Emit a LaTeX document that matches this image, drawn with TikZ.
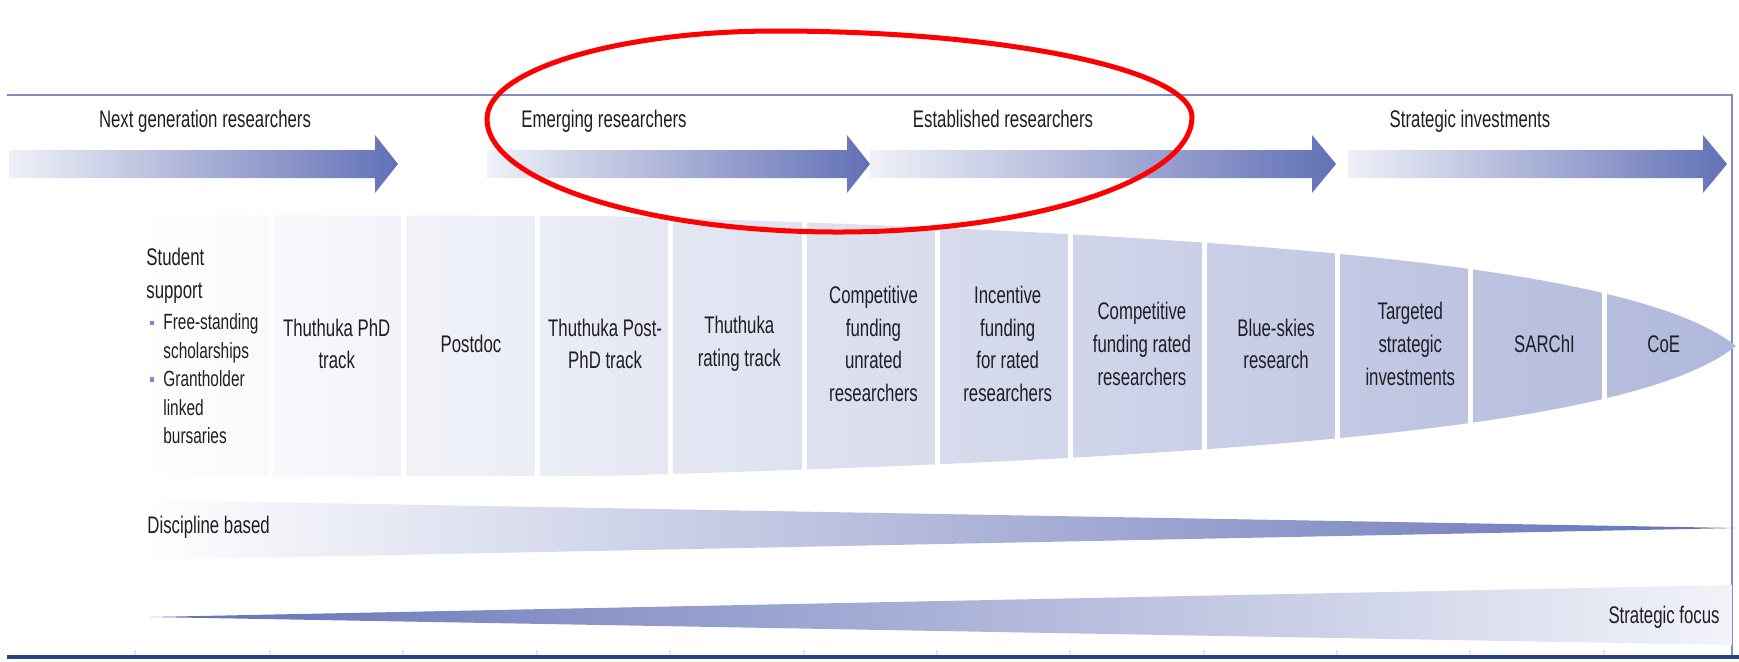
\documentclass[tikz,border=0pt]{standalone}
\usepackage{fontspec}
\setmainfont{Liberation Sans}[FakeStretch=0.70]
\usepackage{tikz}
\usetikzlibrary{positioning}

\definecolor{arrowblue}{RGB}{98,112,182}
\definecolor{framecol}{RGB}{128,138,196}
\definecolor{basecol}{RGB}{44,66,128}
\definecolor{cellend}{RGB}{176,184,219}
\definecolor{txtgray}{RGB}{30,30,36}
\definecolor{bulcol}{RGB}{130,140,195}

\newcommand{\bul}{\leavevmode\llap{\textcolor{bulcol}{\rule[0.22em]{2.2pt}{2.2pt}}\hspace{4.5pt}}}

\begin{document}
\begin{tikzpicture}[x=0.5pt, y=-0.5pt,
  lbl/.style={font=\fontsize{12}{16.3}\selectfont, text=txtgray, inner sep=0pt},
  celltext/.style={lbl, align=center, minimum width=66.7pt, inner xsep=0pt},
  bandarrow/.style={left color=arrowblue!10, right color=arrowblue}]

  \useasboundingbox (0,0) rectangle (1739,661);

  % frame
  \draw[framecol, line width=1.2pt] (7,95) -- (1732,95) -- (1732,657);
  \draw[basecol, line width=2pt] (7,657) -- (1739,657);
  \draw[arrowblue!20, line width=0.6pt] (135,650) -- (135,655) (270,650) -- (270,655)
    (403,650) -- (403,655) (537,650) -- (537,655) (670,650) -- (670,655)
    (804,650) -- (804,655) (937,650) -- (937,655) (1070,650) -- (1070,655)
    (1204,650) -- (1204,655) (1337,650) -- (1337,655) (1470,650) -- (1470,655)
    (1604,650) -- (1604,655);

  % stage arrows
  \shade[bandarrow] (9,150) -- (375,150) -- (375,135) -- (398,164) -- (375,193) -- (375,178) -- (9,178) -- cycle;
  \shade[bandarrow] (487,150) -- (847,150) -- (847,135) -- (870,164) -- (847,193) -- (847,178) -- (487,178) -- cycle;
  \shade[bandarrow] (870,150) -- (1312,150) -- (1312,135) -- (1336,164) -- (1312,193) -- (1312,178) -- (870,178) -- cycle;
  \shade[bandarrow] (1348,150) -- (1703,150) -- (1703,135) -- (1727,164) -- (1703,193) -- (1703,178) -- (1348,178) -- cycle;

  \node[lbl, anchor=base] (nextgen) at (205,127) {Next generation researchers};
  \node[lbl, anchor=base] (emerging) at (604,127) {Emerging researchers};
  \node[lbl, anchor=base] (established) at (1003,127) {Established researchers};
  \node[lbl, anchor=base] (strategic) at (1470,127) {Strategic investments};

  % funding instruments
  \shade[left color=white, right color=cellend] (135,215) -- (600,216)
    .. controls (1300,235) and (1640,270) .. (1736,346)
    .. controls (1640,422) and (1300,457) .. (600,476) -- (135,477) -- cycle;
  \draw[white, line width=2.5pt] (270,205) -- (270,487) (403,205) -- (403,487)
    (537,205) -- (537,487) (670,205) -- (670,487) (804,205) -- (804,487)
    (937,205) -- (937,487) (1070,205) -- (1070,487) (1204,205) -- (1204,487)
    (1337,205) -- (1337,487) (1470,205) -- (1470,487) (1604,205) -- (1604,487);

  \node[lbl, text width=90pt, align=left, anchor=west] (student) at (146,346) {%
    Student\\ support\par\vspace{1.5pt}
    \fontsize{11}{14.2}\selectfont\leftskip=8.5pt
    \bul Free-standing\\ scholarships\par
    \bul Grantholder\\ linked\\ bursaries\par};

  \node[celltext] (phd) at (336.7,344) {Thuthuka PhD\\track};
  \node[celltext, right=0pt of phd] (postdoc) {Postdoc};
  \node[celltext, right=0pt of postdoc] (postphd) {Thuthuka Post-\\PhD track};
  \node[celltext, right=0pt of postphd] (rating) {Thuthuka\\rating track};
  \node[celltext, right=0pt of rating] (unrated) {Competitive\\funding\\unrated\\researchers};
  \node[celltext, right=0pt of unrated] (incentive) {Incentive\\funding\\for rated\\researchers};
  \node[celltext, right=0pt of incentive] (rated) {Competitive\\funding rated\\researchers};
  \node[celltext, right=0pt of rated] (blueskies) {Blue-skies\\research};
  \node[celltext, right=0pt of blueskies] (targeted) {Targeted\\strategic\\investments};
  \node[celltext, right=0pt of targeted] (sarchi) {SARChI};
  \node[celltext, right=0pt of sarchi, xshift=-7.5pt] (coe) {CoE};

  % orientation wedges
  \shade[left color=white, right color=arrowblue] (144,500) -- (1737,528) -- (144,560) -- cycle;
  \shade[left color=arrowblue, right color=arrowblue!8] (150,617) -- (1732,585) -- (1732,645) -- cycle;
  \node[lbl, anchor=west] (discipline) at (147,527) {Discipline based};
  \node[lbl, anchor=east] (focus) at (1720,617) {Strategic focus};

  % highlight
  \draw[red, line width=2.5pt, line cap=round] (487,119) .. controls (487,181) and (644,232) .. (838,232)
    .. controls (1033,232) and (1192,180) .. (1192,117)
    .. controls (1192,70) and (1006,31) .. (776,31)
    .. controls (617,31) and (487,70) .. (487,119);
\end{tikzpicture}
\end{document}
